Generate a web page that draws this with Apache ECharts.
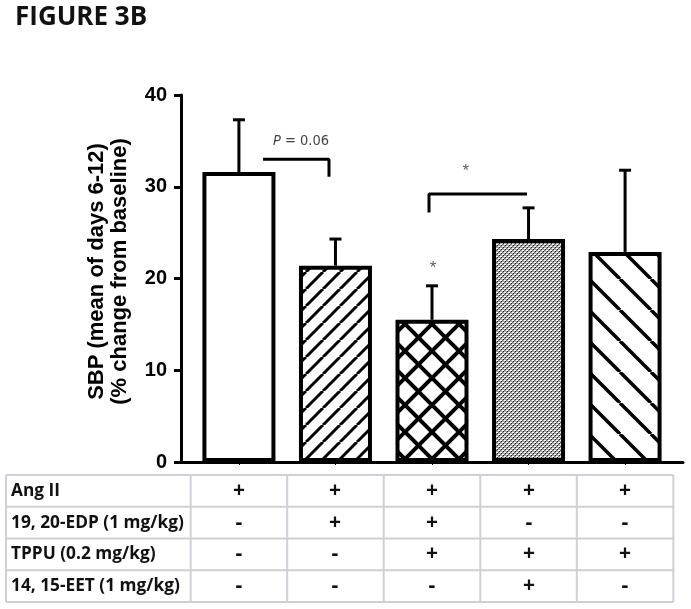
<!DOCTYPE html>
<html>
<head>
<meta charset="utf-8">
<script src="https://cdn.jsdelivr.net/npm/echarts@6/dist/echarts.min.js"></script>
<style>
html,body{margin:0;padding:0;background:#fff;}
#chart{width:691px;height:609px;}
</style>
</head>
<body>
<div id="chart"></div>
<script>
// ---- data ----
var groups = [0, 1, 2, 3, 4];
var means = [31.6, 21.4, 15.5, 24.3, 22.9];
var upper = [37.3, 24.3, 19.2, 27.7, 31.8];
var yTicks = [0, 10, 20, 30, 40];
var rowLabels = ['Ang II', '19, 20-EDP (1 mg/kg)', 'TPPU (0.2 mg/kg)', '14, 15-EET (1 mg/kg)'];
var angII = ['+', '+', '+', '+', '+'];
var edp = ['-', '+', '+', '-', '-'];
var tppu = ['-', '-', '+', '+', '+'];
var eet = ['-', '-', '-', '+', '-'];
var pBracket = [[0.25, 33.0], [0.933, 33.0], [0.933, 31.1]];
var starBracket = [[1.969, 27.2], [1.969, 29.2], [2.984, 29.2]];
var pLabel = [[0.643, 35.0]];
var starLabels = [[2.35, 31.7], [2.01, 21.1]];

// ---- patterns ----
function hatch(P, w, dirs) {
  var c = document.createElement('canvas');
  c.width = P; c.height = P;
  var g = c.getContext('2d');
  g.fillStyle = '#fff'; g.fillRect(0, 0, P, P);
  g.strokeStyle = '#000'; g.lineWidth = w; g.lineCap = 'butt';
  for (var k = -1; k <= 1; k++) {
    if (dirs.indexOf('/') >= 0) { g.beginPath(); g.moveTo(k * P, P); g.lineTo(k * P + P, 0); g.stroke(); }
    if (dirs.indexOf('\\') >= 0) { g.beginPath(); g.moveTo(k * P, 0); g.lineTo(k * P + P, P); g.stroke(); }
  }
  return c;
}
function dots() {
  var c = document.createElement('canvas');
  c.width = 4; c.height = 4;
  var g = c.getContext('2d');
  g.fillStyle = '#a8a8a8'; g.fillRect(0, 0, 4, 4);
  g.fillStyle = '#ffffff'; g.fillRect(0, 0, 1, 1); g.fillRect(2, 2, 1, 1); g.fillRect(1, 0, 1, 1); g.fillRect(3, 2, 1, 1);
  g.fillStyle = '#1a1a1a'; g.fillRect(1, 1, 1, 1); g.fillRect(3, 3, 1, 1);
  g.fillStyle = '#707070'; g.fillRect(0, 2, 1, 1); g.fillRect(2, 0, 1, 1);
  return c;
}
var fills = [
  '#ffffff',
  { image: hatch(17, 3, '/'), repeat: 'repeat' },
  { image: hatch(27, 4, '/\\'), repeat: 'repeat' },
  { image: dots(), repeat: 'repeat' },
  { image: hatch(31, 3.5, '\\'), repeat: 'repeat' }
];

var chart = echarts.init(document.getElementById('chart'), null, { renderer: 'canvas' });
var FONT = 'Liberation Sans, Arial, sans-serif';
var CAL = 'Open Sans, sans-serif';

var option = {
  animation: false,
  backgroundColor: '#fff',
  title: [{
    text: 'FIGURE 3B', left: 10, top: 0,
    textStyle: { fontFamily: CAL, fontWeight: 'bold', fontSize: 26, color: '#111' }
  }],
  grid: { left: 181, top: 95, right: 8, bottom: 147 },
  xAxis: {
    type: 'value', min: -0.6, max: 4.6,
    splitLine: { show: false },
    axisLine: { show: true, onZero: false, lineStyle: { color: '#000', width: 3 } },
    axisTick: { show: true, customValues: groups, length: 3, lineStyle: { color: '#000', width: 1 } },
    axisLabel: { show: false }
  },
  yAxis: {
    type: 'value', min: 0, max: 40, interval: 10,
    name: 'SBP (mean of days 6-12)\n(% change from baseline)',
    nameLocation: 'middle', nameRotate: 90, nameGap: 50,
    nameTextStyle: { fontFamily: FONT, fontWeight: 'bold', fontSize: 22, color: '#000', lineHeight: 23, padding: [0, 0, 0, 14] },
    splitLine: { show: false },
    axisLine: { show: true, onZero: false, lineStyle: { color: '#000', width: 3 } },
    axisTick: { show: true, length: 7, lineStyle: { color: '#000', width: 3 } },
    axisLabel: { fontFamily: FONT, fontWeight: 'bold', fontSize: 20, color: '#000', margin: 14 }
  },
  series: [
    {
      type: 'bar', barWidth: 73,
      data: groups.map(function (g, i) {
        return { value: [g, means[i]], itemStyle: { color: fills[i] } };
      }),
      itemStyle: { borderColor: '#000', borderWidth: 4 },
      z: 2
    },
    {
      type: 'custom',
      encode: { x: 0, y: [1, 2] },
      data: groups.map(function (g, i) { return [g, means[i], upper[i]]; }),
      renderItem: function (params, api) {
        var x = api.value(0);
        var p0 = api.coord([x, api.value(1)]);
        var p1 = api.coord([x, api.value(2)]);
        return {
          type: 'group',
          children: [
            { type: 'line', shape: { x1: p0[0], y1: p0[1], x2: p1[0], y2: p1[1] }, style: { stroke: '#000', lineWidth: 3 } },
            { type: 'line', shape: { x1: p1[0] - 6, y1: p1[1], x2: p1[0] + 6, y2: p1[1] }, style: { stroke: '#000', lineWidth: 3 } }
          ]
        };
      },
      z: 3
    },
    {
      type: 'line', data: pBracket, symbol: 'none',
      lineStyle: { color: '#000', width: 3 }, z: 3
    },
    {
      type: 'line', data: starBracket, symbol: 'none',
      lineStyle: { color: '#000', width: 3 }, z: 3
    },
    {
      type: 'scatter', data: pLabel, symbolSize: 0,
      label: {
        show: true, position: 'inside',
        formatter: '{i|P} = 0.06',
        fontFamily: 'DejaVu Sans Condensed, Liberation Sans Narrow, sans-serif', fontSize: 14.5, color: '#111',
        rich: { i: { fontStyle: 'italic', fontFamily: 'DejaVu Sans Condensed, Liberation Sans Narrow, sans-serif', fontSize: 14.5, color: '#111' } }
      }
    },
    {
      type: 'scatter', data: starLabels, symbolSize: 0,
      label: { show: true, position: 'inside', formatter: '*', fontFamily: FONT, fontSize: 17, color: '#333' }
    }
  ]
};
chart.setOption(option);

// ---- treatment table under the axis ----
var rows = [angII, edp, tppu, eet];
var tableTop = 475, rowH = 31.75, tableLeft = 6;
var centers = groups.map(function (g) { return chart.convertToPixel({ xAxisIndex: 0 }, g); });
var half = (centers[1] - centers[0]) / 2;
var colEdges = [tableLeft].concat(centers.map(function (c) { return c - half; }));
colEdges.push(centers[centers.length - 1] + half);
var tableRight = colEdges[colEdges.length - 1];
var tableBottom = tableTop + rowH * rows.length;
var LINE = '#cdd0d8';
var els = [];
for (var r = 0; r <= rows.length; r++) {
  var y = tableTop + r * rowH;
  els.push({ type: 'line', shape: { x1: tableLeft, y1: y, x2: tableRight, y2: y }, style: { stroke: LINE, lineWidth: 2 } });
}
colEdges.forEach(function (x) {
  els.push({ type: 'line', shape: { x1: x, y1: tableTop, x2: x, y2: tableBottom }, style: { stroke: LINE, lineWidth: 2 } });
});
var titles = option.title.slice();
rows.forEach(function (row, r) {
  var cy = Math.round(tableTop + (r + 0.5) * rowH);
  titles.push({
    text: rowLabels[r], left: 11, top: cy, padding: 0, textVerticalAlign: 'middle', textAlign: 'left',
    textStyle: { fontFamily: CAL, fontWeight: 'bold', fontSize: 17.3, color: '#111' }
  });
  row.forEach(function (s, c) {
    titles.push({
      text: s, left: Math.round(centers[c]), top: cy, padding: 0, textVerticalAlign: 'middle', textAlign: 'center',
      textStyle: { fontFamily: CAL, fontWeight: 'bold', fontSize: 21, color: '#111' }
    });
  });
});
chart.setOption({ graphic: { elements: els }, title: titles });
</script>
</body>
</html>
